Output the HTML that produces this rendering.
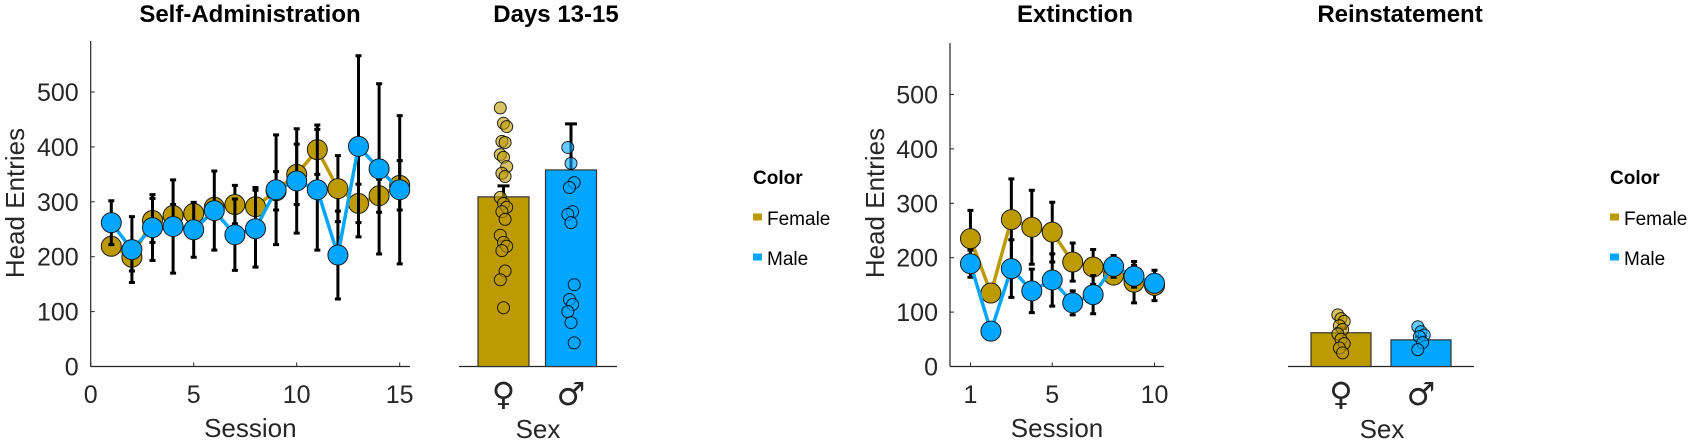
<!DOCTYPE html>
<html><head><meta charset="utf-8"><style>
html,body{margin:0;padding:0;background:#fff}
svg{display:block}
text{font-family:"Liberation Sans",sans-serif;fill:#262626}
.t{font-weight:bold;font-size:24px;fill:#000}
.tk{font-size:25px}
.lab{font-size:26px}
.sym{font-size:32px;font-family:"DejaVu Sans",sans-serif}
.lg{font-size:19px;fill:#000}
</style></head><body>
<svg id="fig" width="1695" height="444" viewBox="0 0 1695 444" xmlns="http://www.w3.org/2000/svg"></svg>
<script>
// ---- Self-Administration data ----
const saSessions=[1,2,3,4,5,6,7,8,9,10,11,12,13,14,15];
const saFemale=[219,199,266,275,279,290,295,291,320,350,395,324,297,311,330];
const saFemaleErr=[12,25,40,20,15,10,35,35,35,55,45,60,35,30,45];
const saMale=[262,213,253,255,249,284,240,251,322,338,322,203,401,360,322];
const saMaleErr=[40,60,60,85,50,72,65,70,100,95,110,80,165,155,135];
// ---- Days 13-15 bar data ----
const sexCats=["\u2640","\u2642"];
const d13Means=[309,358];
const d13Err=[20,84];
const d13FemalePts=[471,443,437,410,408,386,381,364,352,346,308,297,290,282,268,239,226,219,211,174,158,107];
const d13MalePts=[399,370,335,326,282,277,262,149,122,113,100,80,43];
// ---- Extinction data ----
const exSessions=[1,2,3,4,5,6,7,8,9,10];
const exFemale=[235,135,270,256,247,192,183,168,155,149];
const exFemaleErr=[52,10,75,68,55,35,32,15,38,28];
const exMale=[189,65,180,139,159,117,132,184,166,153];
const exMaleErr=[25,8,53,40,48,22,35,20,20,15];
// ---- Reinstatement bar data ----
const riMeans=[62,49];
const riErr=[8,6];
const riFemalePts=[95,88,83,75,68,60,50,42,34,25];
const riMalePts=[73,64,58,55,44,31];
const yTicks=[0,100,200,300,400,500];

const GOLD="#BD9A00", BLUE="#00A6FF", NS="http://www.w3.org/2000/svg";
const svg=document.getElementById('fig');
function mk(tag,attrs,parent,txt){const e=document.createElementNS(NS,tag);for(const k in attrs)e.setAttribute(k,attrs[k]);if(txt!==undefined)e.textContent=txt;(parent||svg).appendChild(e);return e;}
function grp(name){const g=mk('g',{});return g;}

function title(txt,cx,name){const e=mk('text',{x:cx,y:22,'text-anchor':'middle',class:'t'},svg,txt);}

function linePanel(o){
  const X=v=>o.x0+v*o.xs, Y=v=>o.y0-v*o.ys;
  const ax=grp(o.name+'-axes');
  mk('line',{x1:o.x0,y1:o.y0,x2:o.x0,y2:o.top,stroke:'#262626','stroke-width':1.2},ax);
  mk('line',{x1:o.x0,y1:o.y0,x2:o.xend,y2:o.y0,stroke:'#262626','stroke-width':1.2},ax);
  yTicks.forEach(t=>{mk('line',{x1:o.x0,y1:Y(t),x2:o.x0+4,y2:Y(t),stroke:'#262626'},ax);
    const e=mk('text',{x:o.x0-12,y:Y(t)+9,'text-anchor':'end',class:'tk'},ax,String(t));});
  o.xticks.forEach(t=>{mk('line',{x1:X(t),y1:o.y0,x2:X(t),y2:o.y0-4,stroke:'#262626'},ax);
    const e=mk('text',{x:X(t),y:403,'text-anchor':'middle',class:'tk'},ax,String(t));});
  const xl=mk('text',{x:(o.x0+o.xend)/2,y:437,'text-anchor':'middle',class:'lab'},svg,'Session');
  
  const yl=mk('text',{x:0,y:0,'text-anchor':'middle',class:'lab',transform:`translate(${o.ylx},203) rotate(-90)`},svg,'Head Entries');
  
  const series=[[o.f,o.fe,GOLD,'female'],[o.m,o.me,BLUE,'male']];
  series.forEach(([v,e,c,n])=>{
    const g=grp(o.name+'-'+n+'-series');
    v.forEach((val,i)=>{const x=X(o.xs_[i]);
      const eb=mk('path',{d:`M${x},${Y(val-e[i])}V${Y(val+e[i])}M${x-3},${Y(val-e[i])}h6M${x-3},${Y(val+e[i])}h6`,stroke:'#000','stroke-width':3,fill:'none'},g);
      });
    const pl=mk('polyline',{points:v.map((val,i)=>X(o.xs_[i])+','+Y(val)).join(' '),fill:'none',stroke:c,'stroke-width':3.5},g);
    
    v.forEach((val,i)=>{const p=mk('circle',{cx:X(o.xs_[i]),cy:Y(val),r:10,fill:c,stroke:'#1a1a1a','stroke-width':1},g);
      });
  });
}

function barPanel(o){
  const Y=v=>o.y0-v*o.ys;
  const g=grp(o.name+'-bars');
  mk('line',{x1:o.bx1,y1:o.y0,x2:o.bx2,y2:o.y0,stroke:'#262626','stroke-width':1.2},g);
  const cols=[GOLD,BLUE], pts=[o.fp,o.mp];
  o.means.forEach((m,i)=>{const c=o.cx[i];
    const r=mk('rect',{x:c-o.bw/2,y:Y(m),width:o.bw,height:o.y0-Y(m),fill:cols[i],stroke:'#333','stroke-width':1.2},g);
    
    const e=o.err[i];
    const eb=mk('path',{d:`M${c},${Y(m)}V${Y(m+e)}M${c-6},${Y(m+e)}h12`,stroke:'#000','stroke-width':3,fill:'none'},g);
    
    pts[i].forEach((v,k)=>{const dx=((k*7)%5-2)*1.6;
      const p=mk('circle',{cx:c+dx,cy:Y(v),r:6,fill:cols[i],'fill-opacity':0.6,stroke:'#000','stroke-opacity':0.85,'stroke-width':1},g);
      });
    const t=mk('text',{x:c,y:405,'text-anchor':'middle',class:'sym'},g,sexCats[i]);
    
  });
  const xl=mk('text',{x:o.sx,y:438,'text-anchor':'middle',class:'lab'},svg,'Sex');
  
}

function legend(x,name){
  const g=grp(name);
  mk('text',{x:x,y:184,class:'lg','font-weight':'bold'},g,'Color');
  const labs=['Female','Male'],cols=[GOLD,BLUE];
  labs.forEach((l,i)=>{const y=217+i*40;
    const s=mk('rect',{x:x,y:y-3.5,width:9,height:7,fill:cols[i]},g);
    const t=mk('text',{x:x+14,y:y+8,class:'lg'},g,l);});
}

title('Self-Administration',250,'self-administration-title');
title('Days 13-15',556,'days-13-15-title');
title('Extinction',1075,'extinction-title');
title('Reinstatement',1400,'reinstatement-title');

linePanel({name:'self-admin',x0:90.7,xs:20.6,xend:410,y0:366.5,ys:0.549,top:41,ylx:24,xticks:[0,5,10,15],xs_:saSessions,f:saFemale,fe:saFemaleErr,m:saMale,me:saMaleErr});
linePanel({name:'extinction',x0:950,xs:20.45,xend:1164,y0:366.5,ys:0.544,top:43,ylx:884,xticks:[1,5,10],xs_:exSessions,f:exFemale,fe:exFemaleErr,m:exMale,me:exMaleErr});
barPanel({name:'days-13-15',y0:366.5,ys:0.549,bx1:459,bx2:617,cx:[503.5,571],bw:51,means:d13Means,err:d13Err,fp:d13FemalePts,mp:d13MalePts,sx:538});
barPanel({name:'reinstatement',y0:366.5,ys:0.544,bx1:1288,bx2:1474,cx:[1341,1421],bw:60,means:riMeans,err:riErr,fp:riFemalePts,mp:riMalePts,sx:1382});
legend(753,'legend-days');
legend(1610,'legend-reinstatement');
</script>
</body></html>
